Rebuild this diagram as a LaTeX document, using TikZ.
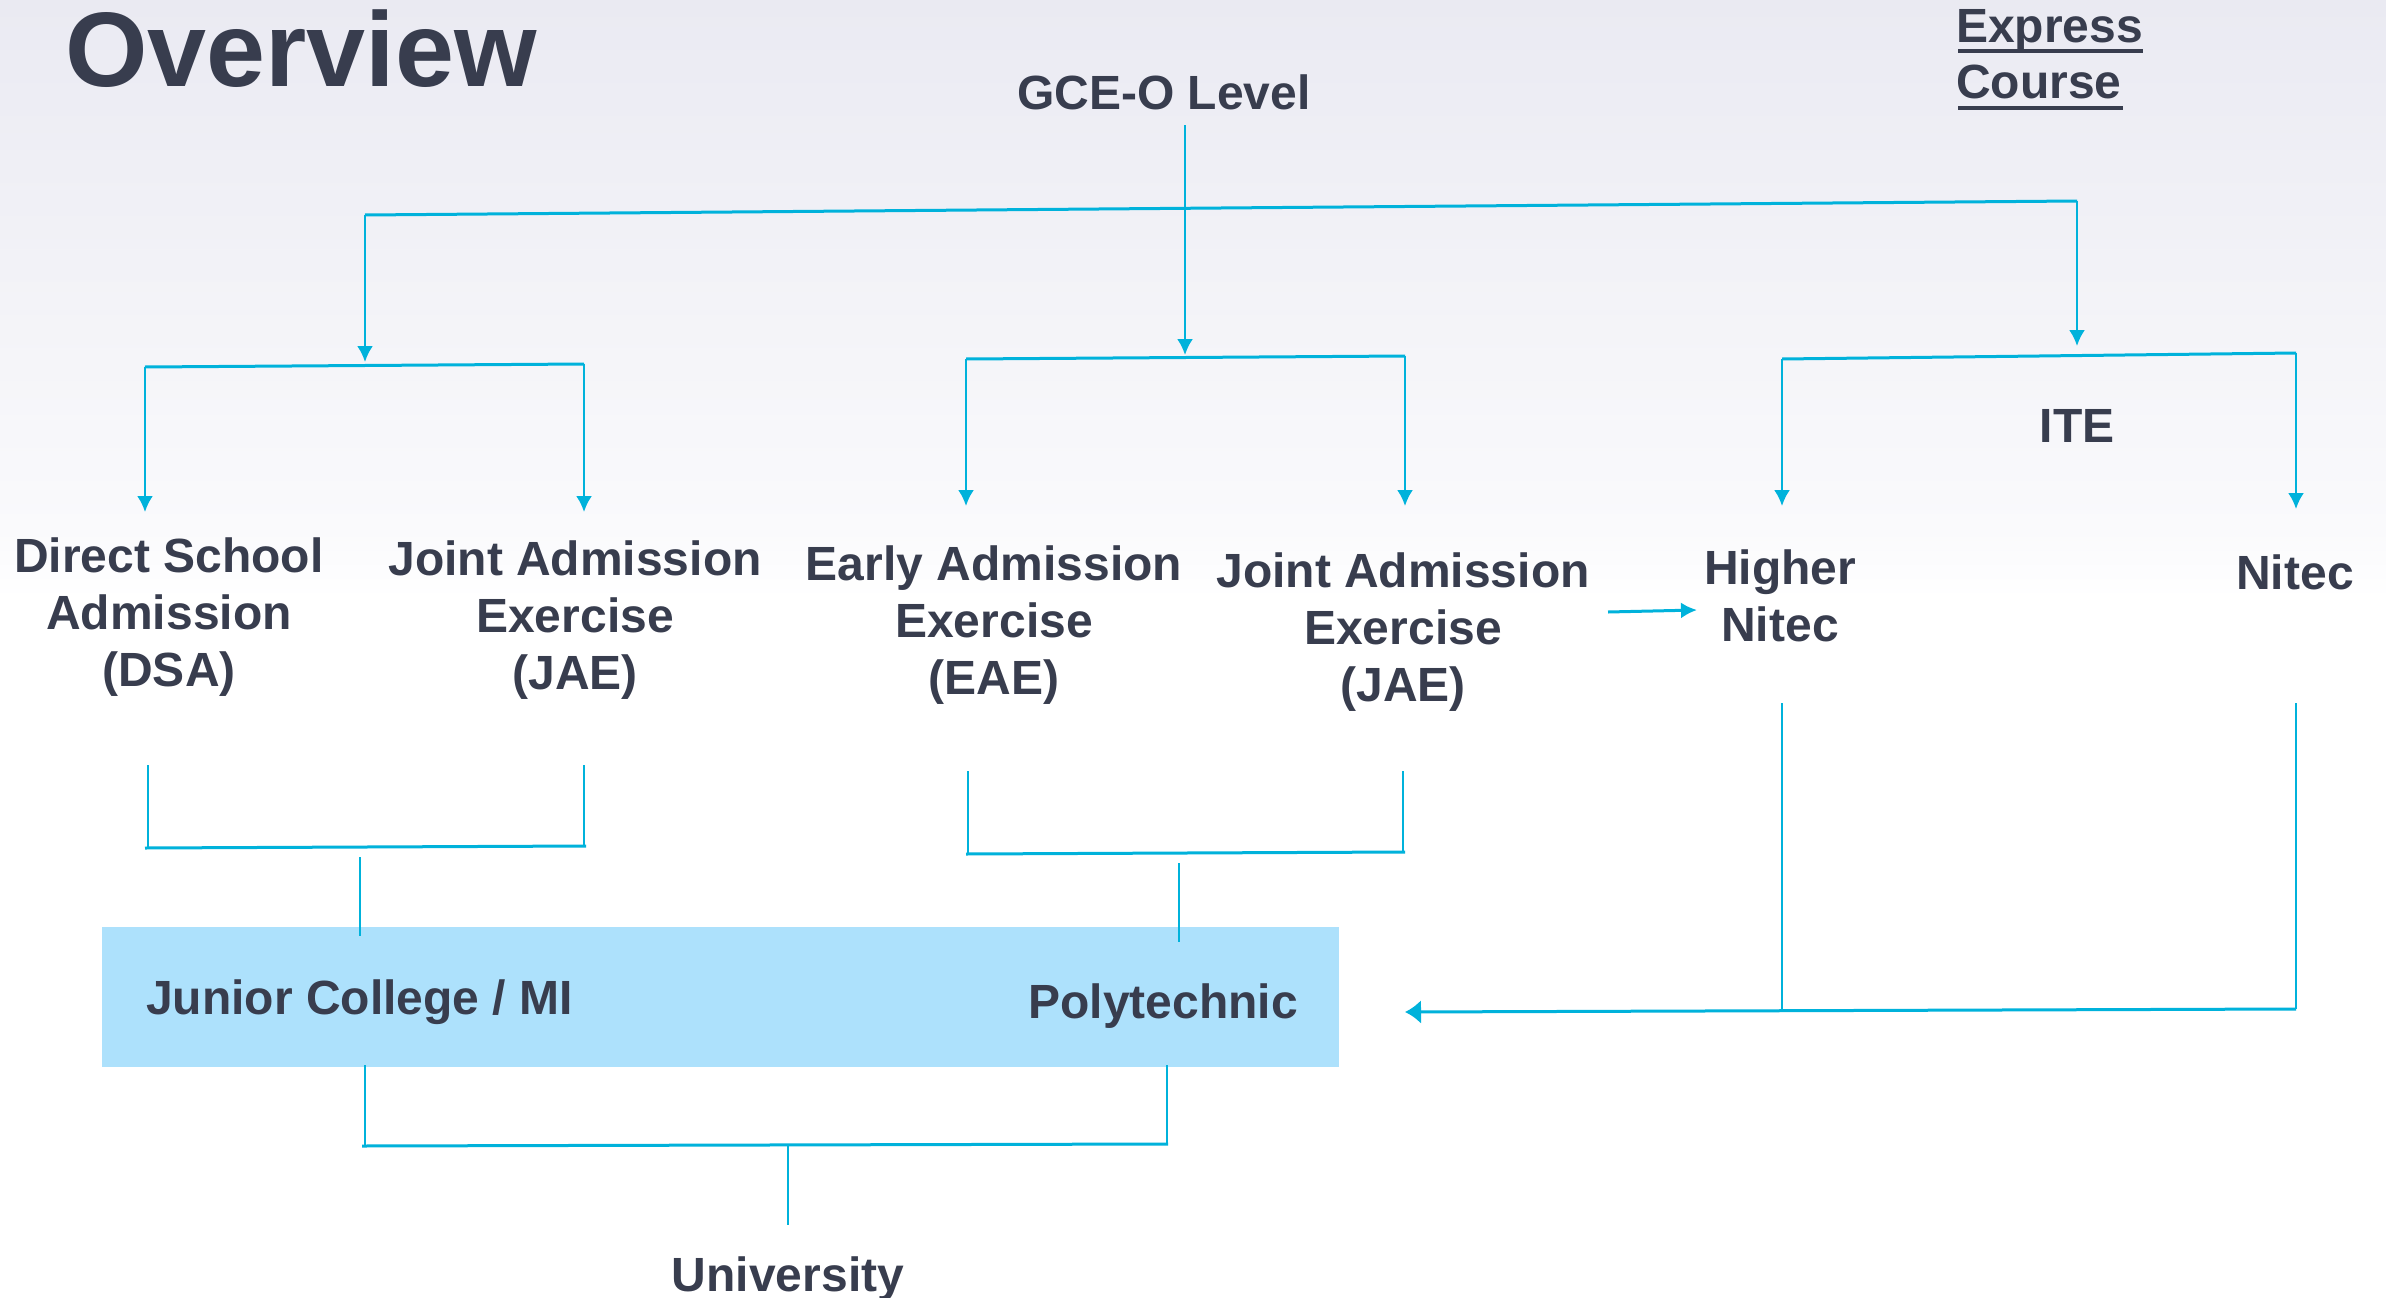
\documentclass[tikz,border=0pt]{standalone}
\usepackage{fontspec}
\setmainfont{Liberation Sans}
\usetikzlibrary{arrows.meta}
\definecolor{ink}{HTML}{383D4E}
\definecolor{wire}{HTML}{00B2DB}
\definecolor{band}{HTML}{ADE1FC}
\definecolor{skytop}{HTML}{EAEAF2}
\definecolor{skybot}{HTML}{FAFAFC}
\begin{document}
\begin{tikzpicture}[x=1pt,y=-1pt,
  lbl/.style={font=\fontsize{48}{57}\selectfont\bfseries, text=ink, align=center, inner sep=0pt},
  vline/.style={draw=wire, line width=2.4pt},
  hline/.style={draw=wire, line width=3pt},
  down/.style={vline, -{Latex[length=16pt,width=16pt]}},
  across/.style={hline, -{Latex[length=16pt,width=16pt]}},
  back/.style={hline, -{Latex[length=16pt,width=24pt]}},
]
\useasboundingbox (0,0) rectangle (2386,1298);
\fill[white] (0,0) rectangle (2386,1298);
\shade[top color=skytop, bottom color=skybot] (0,0) rectangle (2386,530);
\shade[top color=skybot, bottom color=white] (0,529) rectangle (2386,600);

% titles and labels
\node[lbl, font=\fontsize{106}{120}\selectfont\bfseries, anchor=base west] (title) at (65,87) {Overview};
\node[lbl, anchor=base] (gce) at (1164,110) {GCE-O Level};
\node[lbl, anchor=base west] (express) at (1956,43) {Express};
\node[lbl, anchor=base west] (course) at (1956,99) {Course};
\draw[ink, line width=4pt] (1958,51) -- (2143,51);
\draw[ink, line width=4pt] (1958,108) -- (2123,108);

\node[lbl] (dsa) at (169,617) {Direct School\\Admission\\(DSA)};
\node[lbl] (jae1) at (575,620) {Joint Admission\\Exercise\\(JAE)};
\node[lbl] (eae) at (994,625) {Early Admission\\Exercise\\(EAE)};
\node[lbl] (jae2) at (1403,632) {Joint Admission\\Exercise\\(JAE)};
\node[lbl] (hnitec) at (1780,596) {Higher\\Nitec};
\node[lbl] (nitec) at (2295,572) {Nitec};
\node[lbl, anchor=base] (ite) at (2077,442) {ITE};

% destination band
\fill[band] (102,927) rectangle (1339,1067);
\node[lbl, anchor=base west] (jc) at (146,1014) {Junior College / MI};
\node[lbl, anchor=base east] (poly) at (1298,1018) {Polytechnic};
\node[lbl, anchor=base] (uni) at (788,1291) {University};

% top split
\coordinate (gceFoot) at (1185,125);
\coordinate (gceTip) at (1185,355);
\coordinate (hubL) at (365,215);
\coordinate (hubR) at (2077,201);
\draw[hline] (hubL) -- (hubR);
\draw[down] (gceFoot) -- (gceTip);
\draw[down] (hubL) -- (365,362);
\draw[down] (hubR) -- (2077,346);

% second level brackets
\coordinate (aL) at (145,367); \coordinate (aR) at (584,364);
\draw[hline] (aL) -- (aR);
\draw[down] (aL) -- (145,512);
\draw[down] (aR) -- (584,512);

\coordinate (bL) at (966,359); \coordinate (bR) at (1405,356);
\draw[hline] (bL) -- (bR);
\draw[down] (bL) -- (966,506);
\draw[down] (bR) -- (1405,506);

\coordinate (cL) at (1782,359); \coordinate (cR) at (2296,353);
\draw[hline] (cL) -- (cR);
\draw[down] (cL) -- (1782,506);
\draw[down] (cR) -- (2296,509);

% JAE to Higher Nitec
\coordinate (jaeOut) at (1608,612);
\coordinate (hnIn) at (1697,610);
\draw[across] (jaeOut) -- (hnIn);

% merges into JC / MI
\coordinate (dL) at (148,765); \coordinate (dR) at (584,765);
\draw[vline] (dL) -- (148,848);
\draw[vline] (dR) -- (584,846);
\draw[hline] (145,848) -- (586,846);
\draw[vline] (360,857) -- (360,936);

% merges into Polytechnic
\coordinate (eL) at (968,771); \coordinate (eR) at (1403,771);
\draw[vline] (eL) -- (968,854);
\draw[vline] (eR) -- (1403,853);
\draw[hline] (966,854) -- (1405,852);
\draw[vline] (1179,863) -- (1179,942);

% ITE routes back to Polytechnic
\coordinate (fL) at (1782,703); \coordinate (fR) at (2296,703);
\coordinate (fCorner) at (2296,1009);
\coordinate (polyIn) at (1405,1012);
\draw[vline] (fL) -- (1782,1010);
\draw[vline] (fR) -- (fCorner);
\draw[back] (fCorner) -- (polyIn);

% merge into University
\coordinate (gL) at (365,1065); \coordinate (gR) at (1167,1065);
\draw[vline] (gL) -- (365,1146);
\draw[vline] (gR) -- (1167,1144);
\draw[hline] (362,1146) -- (1168,1144);
\draw[vline] (788,1146) -- (788,1225);
\end{tikzpicture}
\end{document}
